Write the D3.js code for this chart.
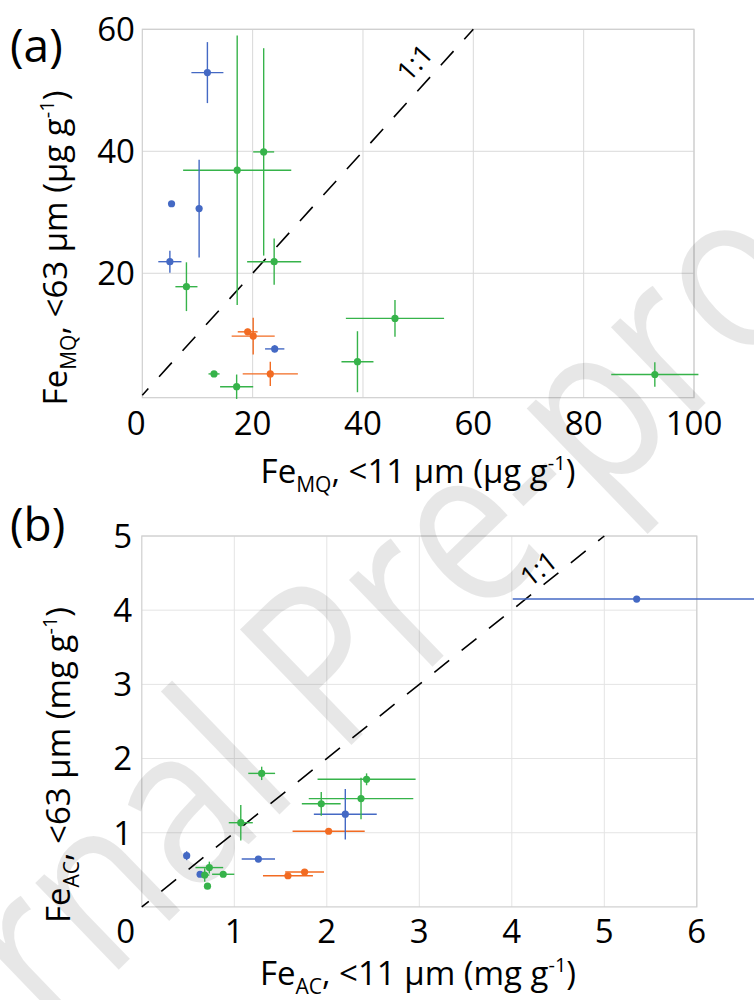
<!DOCTYPE html>
<html><head><meta charset="utf-8">
<script src="https://cdn.jsdelivr.net/npm/d3@7"></script>
<style>body{margin:0;background:#fff}svg{display:block;font-family:"Open Sans",sans-serif}</style>
</head><body>
<svg id="c" width="754" height="1000"></svg>
<script>
// ---------- data ----------
const colors = {blue:"#4469c4", green:"#36b34a", orange:"#f26b22"};

// panel (a): Fe_MQ  (µg g-1)
const aGroup = ["blue","blue","blue","blue","blue","green","green","green","green","green","green","green","green","green","orange","orange","orange"];
const aX    = [11.8, 5.3, 10.3, 5.0, 24.0, 17.2, 22.0, 8.0, 23.9, 13.0, 17.1, 39.0, 45.8, 92.9, 19.1, 20.1, 23.2];
const aY    = [52.9, 31.4, 30.6, 21.9, 7.6, 36.9, 39.9, 17.8, 21.9, 3.5, 1.4, 5.5, 12.6, 3.4, 10.4, 9.7, 3.5];
const aXErr = [2.9, 0, 0, 2.1, 1.75, 9.8, 1.9, 2.0, 4.9, 1.0, 3.0, 2.9, 8.9, 7.9, 1.8, 3.9, 5.0];
const aYErr = [5, 0, 8, 1.8, 0.6, 22.1, 17, 4, 3.8, 0.4, 2, 5, 3, 2, 0.5, 3, 2];
const aXTicks = [0, 20, 40, 60, 80, 100];
const aYTicks = [20, 40, 60];

// panel (b): Fe_AC  (mg g-1)
const bGroup = ["blue","blue","blue","blue","blue","green","green","green","green","green","green","green","green","green","orange","orange","orange"];
const bX    = [5.35, 2.2, 1.26, 0.485, 0.63, 1.296, 2.43, 2.37, 1.94, 1.07, 0.73, 0.68, 0.88, 0.71, 2.02, 1.76, 1.58];
const bY    = [4.15, 1.25, 0.645, 0.69, 0.44, 1.80, 1.72, 1.46, 1.39, 1.135, 0.53, 0.43, 0.44, 0.28, 1.02, 0.47, 0.42];
const bXErr = [1.34, 0.34, 0.18, 0.02, 0.03, 0.145, 0.53, 0.565, 0.21, 0.13, 0.15, 0.05, 0.12, 0.03, 0.39, 0.21, 0.27];
const bYErr = [0.02, 0.34, 0.03, 0.06, 0.03, 0.09, 0.08, 0.28, 0.16, 0.24, 0.08, 0.09, 0.02, 0.03, 0.02, 0.02, 0.02];
const bXTicks = [0, 1, 2, 3, 4, 5, 6];
const bYTicks = [1, 2, 3, 4, 5];

const watermarkLeft = "Journal";
const watermarkRight = "Pre-proof";

const svg = d3.select("#c");

function panel(cfg){
  const {x, y, xt, yt, gridColor} = cfg;
  const g = svg.append("g");
  const [x0,x1] = x.range(), [y0,y1] = y.range();
  g.selectAll(".vg").data(xt.filter(v=>v!==x.domain()[0])).join("line")
    .attr("x1",d=>x(d)).attr("x2",d=>x(d)).attr("y1",y0).attr("y2",y1)
    .attr("stroke",gridColor).attr("stroke-width",1);
  g.selectAll(".hg").data(yt).join("line")
    .attr("x1",x0).attr("x2",x1).attr("y1",d=>y(d)).attr("y2",d=>y(d))
    .attr("stroke",gridColor).attr("stroke-width",1);
  g.append("rect").attr("x",x0).attr("y",y1).attr("width",x1-x0).attr("height",y0-y1)
    .attr("fill","none").attr("stroke","#cfcfcf").attr("stroke-width",1.2);
}

function data(cfg){
  const {x, y, X, Y, XE, YE, G, lineMax, label, labelPos, labelAngle} = cfg;
  const g = svg.append("g");
  g.append("line").attr("x1",x(0)).attr("y1",y(0)).attr("x2",x(lineMax)).attr("y2",y(lineMax))
    .attr("stroke","#000").attr("stroke-width",1.6).attr("stroke-dasharray","19 16").attr("stroke-dashoffset",10);
  g.append("text").attr("transform",`translate(${labelPos[0]},${labelPos[1]}) rotate(${labelAngle})`)
    .attr("text-anchor","middle").attr("dominant-baseline","central")
    .attr("font-size",27).text(label);
  const idx = d3.range(X.length);
  g.selectAll(".xe").data(idx).join("line")
    .attr("x1",i=>x(X[i]-XE[i])).attr("x2",i=>x(X[i]+XE[i]))
    .attr("y1",i=>y(Y[i])).attr("y2",i=>y(Y[i]))
    .attr("stroke",i=>colors[G[i]]).attr("stroke-width",1.4);
  g.selectAll(".ye").data(idx).join("line")
    .attr("x1",i=>x(X[i])).attr("x2",i=>x(X[i]))
    .attr("y1",i=>y(Y[i]-YE[i])).attr("y2",i=>y(Y[i]+YE[i]))
    .attr("stroke",i=>colors[G[i]]).attr("stroke-width",1.4);
  g.selectAll(".pt").data(idx).join("circle")
    .attr("cx",i=>x(X[i])).attr("cy",i=>y(Y[i])).attr("r",3.6)
    .attr("fill",i=>colors[G[i]]);
}

function ticks(cfg){
  const {x, y, xt, yt, zeroShift, yTickRight, xTickBase} = cfg;
  const g = svg.append("g").attr("font-size",33).attr("fill","#000");
  g.selectAll(".xt").data(xt).join("text")
    .attr("x",d=>x(d)+(d===0?zeroShift:0)).attr("y",xTickBase)
    .attr("text-anchor","middle").text(d=>d);
  g.selectAll(".yt").data(yt).join("text")
    .attr("x",yTickRight).attr("y",d=>y(d)+11.8)
    .attr("text-anchor","end").text(d=>d);
}

function title(x, y, rot, sub, rest){
  const t = svg.append("text").attr("transform",`translate(${x},${y}) rotate(${rot})`)
    .attr("text-anchor","middle").attr("font-size",33).attr("fill","#000");
  t.append("tspan").text("Fe");
  t.append("tspan").attr("font-size",21).attr("dy",9).text(sub);
  t.append("tspan").attr("dy",-9).text(",");
  t.append("tspan").text(" " + rest + " g");
  t.append("tspan").attr("font-size",20).attr("dy",-13).text("-1");
  t.append("tspan").attr("dy",13).text(")");
}

const cfgA = {
  x: d3.scaleLinear([0,100],[142.3,694]),
  y: d3.scaleLinear([-0.4,60],[397.7,29.3]),
  X:aX, Y:aY, XE:aXErr, YE:aYErr, G:aGroup, xt:aXTicks, yt:aYTicks,
  lineMax:60, label:"1:1", labelPos:[414,62], labelAngle:-47.8,
  zeroShift:-6, gridColor:"#d9d9d9", yTickRight:135, xTickBase:435
};
const cfgB = {
  x: d3.scaleLinear([0,6],[141.8,696.8]),
  y: d3.scaleLinear([0,5],[906.9,536]),
  X:bX, Y:bY, XE:bXErr, YE:bYErr, G:bGroup, xt:bXTicks, yt:bYTicks,
  lineMax:5, label:"1:1", labelPos:[538,568], labelAngle:-38.7,
  zeroShift:-16, gridColor:"#e4e4e4", yTickRight:132, xTickBase:943
};

panel(cfgA);
panel(cfgB);

// watermark (semi-transparent, above grid)
const wm = svg.append("g").attr("transform","translate(338,758) rotate(-44) scale(0.85,1)")
  .attr("font-size",225).attr("fill","#000").attr("fill-opacity",0.095);
wm.append("text").attr("text-anchor","start").text(watermarkRight);
wm.append("text").attr("text-anchor","end").attr("x",-58).text(watermarkLeft);

data(cfgA);
data(cfgB);
ticks(cfgA);
ticks(cfgB);

title(418, 483, 0, "MQ", "<11 µm (µg");
title(67, 248, -90, "MQ", "<63 µm (µg");
title(418, 985, 0, "AC", "<11 µm (mg");
title(70, 765, -90, "AC", "<63 µm (mg");

svg.append("text").attr("x",10).attr("y",62).attr("font-size",46).text("(a)");
svg.append("text").attr("x",10).attr("y",541).attr("font-size",46).text("(b)");
</script>
</body></html>
